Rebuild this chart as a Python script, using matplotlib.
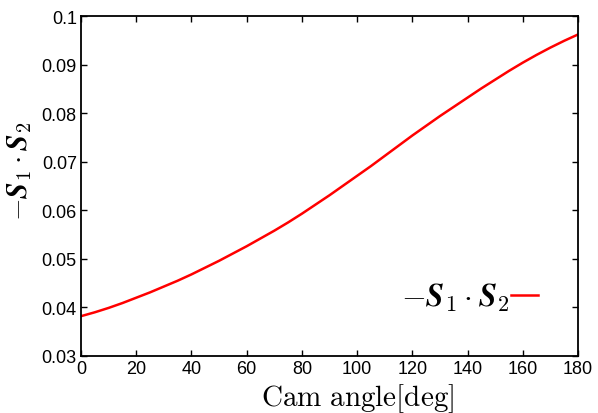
import matplotlib
matplotlib.use("Agg")
import matplotlib.pyplot as plt

plt.rcParams['mathtext.fontset'] = 'cm'
plt.rcParams['font.family'] = ['Liberation Sans', 'DejaVu Sans']

cam_angle = [0, 5, 10, 15, 20, 25, 30, 35, 40, 45, 50, 55, 60, 65, 70, 75, 80, 85, 90,
             95, 100, 105, 110, 115, 120, 125, 130, 135, 140, 145, 150, 155, 160, 165,
             170, 175, 180]
neg_s1s2 = [0.0382, 0.0390, 0.0399, 0.0409, 0.0420, 0.0431, 0.0443, 0.0455, 0.0468,
            0.0482, 0.0496, 0.0511, 0.0526, 0.0542, 0.0558, 0.0575, 0.0593, 0.0612,
            0.0631, 0.0651, 0.0671, 0.0691, 0.0712, 0.0733, 0.0754, 0.0774, 0.0794,
            0.0813, 0.0832, 0.0851, 0.0869, 0.0887, 0.0904, 0.0920, 0.0935, 0.0949,
            0.0962]
xticks = [0, 20, 40, 60, 80, 100, 120, 140, 160, 180]
yticks = [0.03, 0.04, 0.05, 0.06, 0.07, 0.08, 0.09, 0.1]
ytick_labels = ['0.03', '0.04', '0.05', '0.06', '0.07', '0.08', '0.09', '0.1']

fig = plt.figure(figsize=(5.98, 4.14), dpi=100)
ax = fig.add_axes([0.1355, 0.1377, 0.9666 - 0.1355, 0.9589 - 0.1377])
label = r'$-\mathbfit{S}_1\cdot\mathbfit{S}_2$'
ax.plot(cam_angle, neg_s1s2, color='red', lw=1.8, label=label)
ax.set_xlim(0, 180)
ax.set_ylim(0.03, 0.1)
ax.set_xticks(xticks)
ax.set_yticks(yticks)
ax.set_yticklabels(ytick_labels)
ax.tick_params(direction='in', top=True, right=True, length=4, width=1, labelsize=13, pad=3)
for s in ax.spines.values():
    s.set_linewidth(1.3)
ax.set_xlabel(r'$\mathrm{Cam\ angle[deg]}$', fontsize=21)
ax.xaxis.set_label_coords(0.557, -0.075, transform=ax.transAxes)
ax.set_ylabel(label, fontsize=21)
ax.yaxis.set_label_coords(-0.094, 0.545, transform=ax.transAxes)
ax.legend(loc='center right', frameon=False, markerfirst=False, fontsize=23,
          handlelength=0.85, handletextpad=0.05, borderpad=0, borderaxespad=0,
          bbox_to_anchor=(538 / 598, 1 - 298 / 414), bbox_transform=fig.transFigure)
fig.savefig('out.png', dpi=100)
